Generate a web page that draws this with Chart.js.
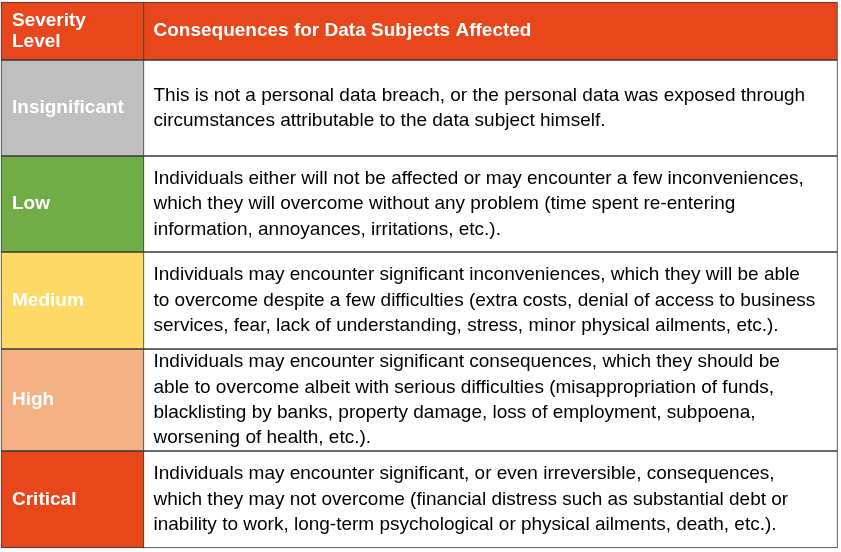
<!DOCTYPE html>
<html>
<head>
<meta charset="utf-8">
<script src="https://cdn.jsdelivr.net/npm/chart.js@4.4.0/dist/chart.umd.min.js"></script>
<style>
  html, body { margin: 0; padding: 0; background: #fff; }
  #wrap { width: 841px; height: 552px; }
</style>
</head>
<body>
<div id="wrap"><canvas id="tableChart"></canvas></div>
<script>
// table content
const levels = ['Severity\nLevel', 'Insignificant', 'Low', 'Medium', 'High', 'Critical'];
const levelColors = ['#E8461B', '#BFBFBF', '#70AD47', '#FFD966', '#F4B183', '#E8461B'];
const consequences = [
  ['Consequences for Data Subjects Affected'],
  ['This is not a personal data breach, or the personal data was exposed through',
   'circumstances attributable to the data subject himself.'],
  ['Individuals either will not be affected or may encounter a few inconveniences,',
   'which they will overcome without any problem (time spent re-entering',
   'information, annoyances, irritations, etc.).'],
  ['Individuals may encounter significant inconveniences, which they will be able',
   'to overcome despite a few difficulties (extra costs, denial of access to business',
   'services, fear, lack of understanding, stress, minor physical ailments, etc.).'],
  ['Individuals may encounter significant consequences, which they should be',
   'able to overcome albeit with serious difficulties (misappropriation of funds,',
   'blacklisting by banks, property damage, loss of employment, subpoena,',
   'worsening of health, etc.).'],
  ['Individuals may encounter significant, or even irreversible, consequences,',
   'which they may not overcome (financial distress such as substantial debt or',
   'inability to work, long-term psychological or physical ailments, death, etc.).']
];
const rowHeights = [58, 96, 96, 97, 102, 97];
const colCenters = [72.5, 490];
const colWidths = [143, 695];
const tableTop = 2;

const datasets = [];
// spacer so the table starts at tableTop
colCenters.forEach(function (cx, c) {
  datasets.push({
    data: [{ x: cx, y: tableTop }], stack: 'c' + c, barThickness: colWidths[c],
    backgroundColor: 'rgba(0,0,0,0)', borderWidth: 0, spacer: true
  });
});
rowHeights.forEach(function (h, r) {
  colCenters.forEach(function (cx, c) {
    datasets.push({
      data: [{ x: cx, y: h }],
      stack: 'c' + c,
      barThickness: colWidths[c],
      backgroundColor: c === 0 ? levelColors[r] : (r === 0 ? levelColors[0] : '#FFFFFF'),
      borderColor: '#3A3A3A',
      borderWidth: 1,
      borderSkipped: false,
      row: r, col: c
    });
  });
});

const cellText = {
  id: 'cellText',
  afterDatasetsDraw: function (chart) {
    const ctx = chart.ctx;
    chart.data.datasets.forEach(function (ds, i) {
      if (ds.spacer) return;
      const el = chart.getDatasetMeta(i).data[0];
      const top = Math.min(el.y, el.base), bottom = Math.max(el.y, el.base);
      const left = el.x - el.width / 2;
      const mid = (top + bottom) / 2;
      let lines, font, color, lh;
      if (ds.col === 0) {
        lines = levels[ds.row].split('\n');
        font = 'bold 19px "Liberation Sans", Arial, sans-serif';
        color = '#FFFFFF';
        lh = 21;
      } else {
        lines = consequences[ds.row];
        font = (ds.row === 0 ? 'bold ' : '') + '19px "Liberation Sans", Arial, sans-serif';
        color = ds.row === 0 ? '#FFFFFF' : '#000000';
        lh = 25.3;
      }
      ctx.save();
      ctx.font = font;
      ctx.fillStyle = color;
      ctx.textAlign = 'left';
      ctx.textBaseline = 'middle';
      const start = mid - (lines.length - 1) * lh / 2;
      lines.forEach(function (t, k) {
        ctx.fillText(t, left + 11, start + k * lh);
      });
      ctx.restore();
    });
  }
};

new Chart(document.getElementById('tableChart'), {
  type: 'bar',
  data: { datasets: datasets },
  options: {
    responsive: true,
    maintainAspectRatio: false,
    animation: false,
    layout: { padding: 0 },
    datasets: { bar: { grouped: false } },
    plugins: { legend: { display: false }, tooltip: { enabled: false } },
    scales: {
      x: { type: 'linear', min: 0, max: 841, offset: false, display: false, grid: { offset: false } },
      y: { type: 'linear', min: 0, max: 552, reverse: true, stacked: true, display: false }
    }
  },
  plugins: [cellText]
});
</script>
</body>
</html>
